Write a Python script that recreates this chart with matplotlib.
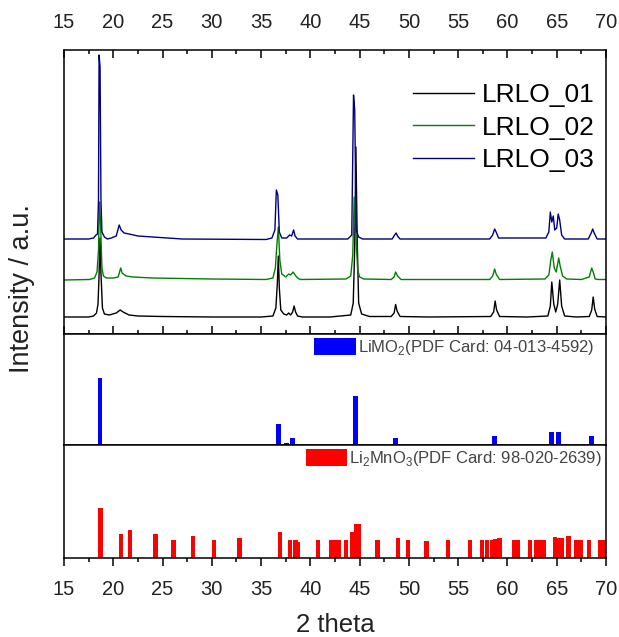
import matplotlib
matplotlib.use("Agg")
import matplotlib.pyplot as plt
import numpy as np

plt.rcParams['font.family'] = ['Liberation Sans', 'DejaVu Sans']
plt.rcParams['mathtext.fontset'] = 'custom'
plt.rcParams['mathtext.rm'] = 'Liberation Sans'

# --- XRD patterns, (2 theta, intensity above own baseline)
lrlo_01 = [(15, 1), (17.5, 1), (18.0, 2), (18.3, 5), (18.45, 14), (18.55, 40), (18.65, 80),
           (18.75, 45), (18.9, 10), (19.1, 4), (19.6, 3), (20.3, 5), (20.7, 8), (21.0, 6),
           (21.6, 3), (22.5, 2), (25, 1.5), (30, 1), (35, 1), (36.2, 2), (36.5, 10),
           (36.65, 35), (36.75, 62), (36.85, 30), (37.0, 8), (37.3, 4), (37.6, 3), (37.8, 5),
           (38.0, 3), (38.2, 6), (38.35, 12), (38.5, 6), (38.7, 2), (39.2, 1), (42, 1),
           (44.1, 3), (44.35, 15), (44.5, 70), (44.62, 171), (44.75, 80), (44.9, 15),
           (45.2, 4), (46, 1.5), (48.2, 1.5), (48.5, 5), (48.65, 13.5), (48.8, 7), (49.1, 1.5),
           (52, 1), (58.3, 1.5), (58.6, 6), (58.75, 17), (58.9, 8), (59.2, 1.5), (62, 1),
           (64.1, 2), (64.35, 12), (64.5, 36), (64.7, 14), (64.9, 6), (65.1, 14), (65.3, 38),
           (65.5, 12), (65.8, 2), (67, 1), (68.3, 1.5), (68.55, 8), (68.7, 21), (68.85, 9),
           (69.1, 1.5), (70, 1)]

lrlo_02 = [(15, 0), (17.6, 0.5), (18.1, 2), (18.35, 8), (18.5, 30), (18.6, 78), (18.7, 60),
           (18.85, 12), (19.0, 4), (19.3, 2), (20.0, 2), (20.5, 3), (20.75, 12), (20.9, 7),
           (21.3, 4), (22, 3), (24, 2), (30, 1), (35.5, 0.5), (36.2, 2), (36.45, 12),
           (36.6, 35), (36.75, 53), (36.9, 20), (37.1, 6), (37.5, 3), (37.8, 6), (38.0, 5),
           (38.25, 8), (38.45, 5), (38.7, 2), (39.0, 0.5), (43.6, 1), (44.1, 4), (44.3, 25),
           (44.45, 83), (44.6, 50), (44.8, 10), (45.0, 3), (45.4, 1), (48.2, 0.5), (48.5, 3),
           (48.65, 8), (48.85, 4), (49.2, 0.5), (58.2, 0.5), (58.5, 4), (58.7, 11), (58.85, 6),
           (59.2, 0.5), (63.8, 1), (64.2, 5), (64.4, 20), (64.55, 28), (64.75, 12), (64.95, 8),
           (65.2, 22), (65.35, 14), (65.6, 4), (66, 1), (67.5, 0.5), (68.3, 3), (68.55, 12),
           (68.7, 8), (68.9, 1), (69.2, 0.5), (70, 0.5)]

lrlo_03 = [(15, 1), (17.5, 1), (18.0, 2), (18.25, 5), (18.4, 6), (18.5, 40), (18.56, 185),
           (18.66, 173), (18.75, 40), (18.85, 8), (19.1, 3), (19.4, 1), (19.8, 2), (20.3, 4),
           (20.6, 15), (20.8, 10), (21.1, 7), (21.6, 6), (22.5, 4), (24, 3), (27, 1),
           (35.5, 0.5), (36.1, 2), (36.4, 10), (36.55, 50), (36.7, 45), (36.85, 8), (37.1, 2),
           (37.6, 2), (37.9, 5), (38.1, 4), (38.3, 10), (38.45, 4), (38.7, 1), (43.8, 1),
           (44.2, 5), (44.38, 145), (44.5, 130), (44.65, 10), (44.9, 3), (45.3, 1), (48.3, 1),
           (48.55, 5), (48.7, 7), (48.85, 4), (49.1, 1), (58.2, 1), (58.5, 5), (58.7, 11),
           (58.85, 8), (59.1, 2), (63.9, 2), (64.2, 8), (64.35, 28), (64.5, 18), (64.65, 24),
           (64.8, 10), (65.0, 12), (65.15, 26), (65.3, 20), (65.5, 5), (65.8, 1), (68.2, 1),
           (68.5, 7), (68.65, 11), (68.8, 7), (69.1, 1), (70, 1)]

sample_names = ['LRLO_01', 'LRLO_02', 'LRLO_03']
sample_colors = ['#000000', '#008000', '#000080']
offsets = [16, 54, 94]

# --- reference cards
limo2_tth = [18.65, 36.8, 37.6, 38.2, 44.6, 48.65, 58.65, 64.45, 65.15, 68.5]
limo2_int = [67, 21, 2.3, 6.7, 49, 6.7, 9, 13, 13, 9]

li2mno3_tth = [18.7, 20.8, 21.7, 24.3, 26.1, 28.1, 30.2, 32.8, 36.9, 37.9, 38.5, 38.75,
               40.8, 42.1, 42.5, 42.9, 43.6, 44.2, 44.6, 44.9, 46.8, 48.9, 49.9, 51.8,
               54.0, 56.2, 57.4, 57.9, 58.4, 58.8, 59.2, 60.7, 61.1, 62.3, 62.9, 63.3,
               63.7, 64.8, 65.2, 65.5, 66.2, 67.0, 67.4, 68.3, 69.4, 69.85]
li2mno3_int = [50, 24, 28, 24, 18, 21.6, 18, 20, 26, 18, 18, 16,
               18, 18, 18, 18, 18, 26, 34, 34, 18, 20, 18, 17,
               18, 18, 18, 18, 18, 19, 20, 18, 18, 18, 18, 18,
               18, 21, 20, 20, 22, 18, 18, 18, 18, 18]

W, H = 619, 637
fig = plt.figure(figsize=(W / 100, H / 100), dpi=100)

left = 64 / W
width = (606 - 64) / W
ax_top = fig.add_axes([left, 1 - 334 / H, width, 284 / H])
ax_mid = fig.add_axes([left, 1 - 445 / H, width, 111 / H])
ax_bot = fig.add_axes([left, 1 - 558 / H, width, 113 / H])

txt = '#222222'

# Top panel: stacked patterns
for data, name, col, off in zip([lrlo_01, lrlo_02, lrlo_03], sample_names, sample_colors, offsets):
    arr = np.array(data)
    ax_top.plot(arr[:, 0], arr[:, 1] + off, color=col, lw=1.0, label=name)

ax_top.set_ylim(0, 284)
ax_top.legend(loc='upper right', bbox_to_anchor=(0.998, 0.921), frameon=False, fontsize=19,
              handlelength=2.3, handletextpad=0.3, labelspacing=0.33, borderaxespad=0)

# Middle panel: LiMO2 card
ax_mid.bar(limo2_tth, limo2_int, width=0.5, color='#0000FF',
           label='LiMO$_2$(PDF Card: 04-013-4592)')
ax_mid.set_ylim(0, 111)
ax_mid.legend(loc='upper right', bbox_to_anchor=(0.985, 1.0), frameon=False, fontsize=12,
              handlelength=2.5, handleheight=1.2, handletextpad=0.1, borderaxespad=0.15,
              borderpad=0.1, labelcolor='#444444')

# Bottom panel: Li2MnO3 card
ax_bot.bar(li2mno3_tth, li2mno3_int, width=0.44, color='#FF0000',
           label='Li$_2$MnO$_3$(PDF Card: 98-020-2639)')
ax_bot.set_ylim(0, 113)
ax_bot.legend(loc='upper right', frameon=False, fontsize=12, handlelength=2.5,
              handleheight=1.2, handletextpad=0.1, borderaxespad=0.15, borderpad=0.1,
              labelcolor='#444444')

for ax in (ax_top, ax_mid, ax_bot):
    ax.set_xlim(15, 70)
    ax.set_xticks(np.arange(15, 71, 5))
    ax.set_xticks(np.arange(17.5, 70, 5), minor=True)
    ax.set_yticks([])
    for sp in ax.spines.values():
        sp.set_linewidth(1.1)

ax_top.tick_params(axis='x', which='both', direction='in', top=True, bottom=True,
                   labeltop=True, labelbottom=False, width=1.1, labelsize=14.5,
                   labelcolor=txt, pad=13)
ax_top.tick_params(axis='x', which='major', length=5.5)
ax_top.tick_params(axis='x', which='minor', length=3)

ax_mid.tick_params(axis='x', which='both', bottom=False, top=False,
                   labelbottom=False, labeltop=False)

ax_bot.tick_params(axis='x', which='both', direction='out', top=False, bottom=True,
                   labelbottom=True, width=1.1, labelsize=14.5, labelcolor=txt, pad=10)
ax_bot.tick_params(axis='x', which='major', length=5.5)
ax_bot.tick_params(axis='x', which='minor', length=3)

fig.text(335 / W, 1 - 625 / H, '2 theta', ha='center', va='center', fontsize=18.5, color=txt)
fig.text(22 / W, 1 - 288 / H, 'Intensity / a.u.', ha='center', va='center',
         rotation=90, fontsize=19.5, color=txt)

fig.savefig('out.png', dpi=100)
